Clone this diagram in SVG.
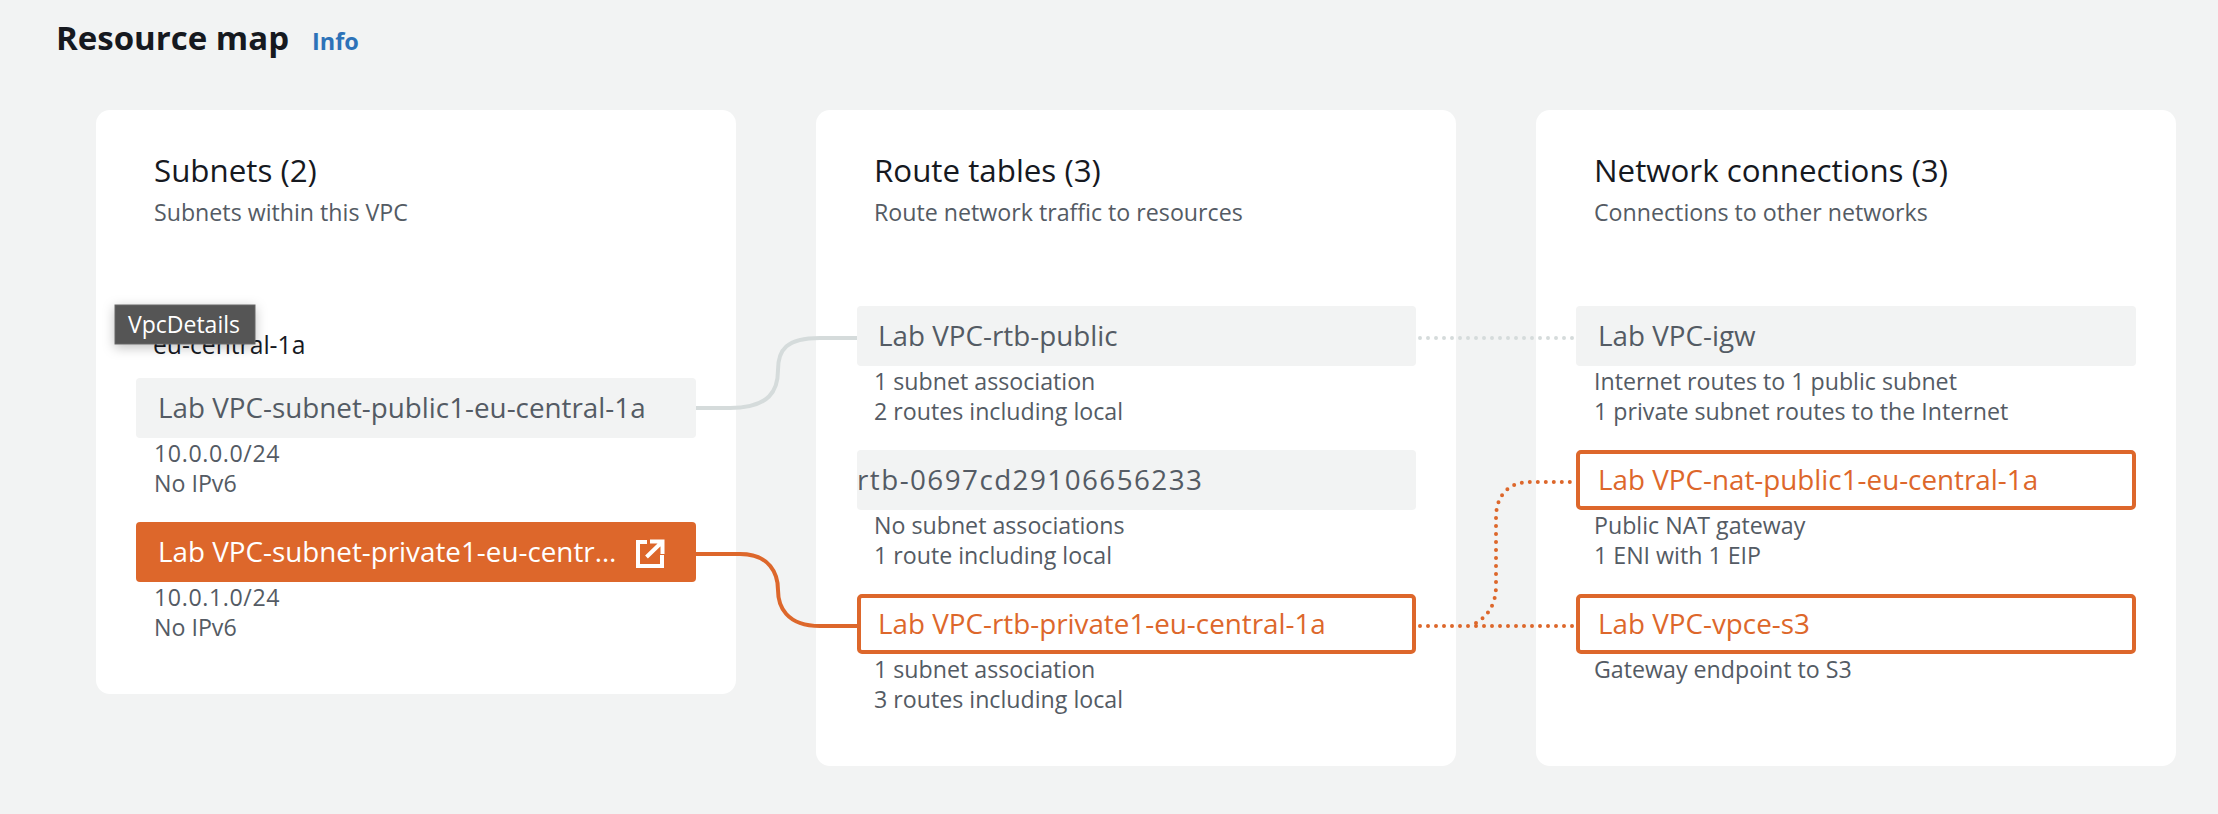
<svg xmlns="http://www.w3.org/2000/svg" width="2218" height="814" viewBox="0 0 2218 814">
<defs>
<style>
text{font-family:"Open Sans","Noto Sans","Liberation Sans",sans-serif}
.card{fill:#fff}
.node{fill:#f2f3f3}
.sel{fill:#fff;stroke:#dd672b;stroke-width:4}
.name{font-size:27.8px;fill:#545b64}
.nameo{font-size:27.8px;fill:#dd672b}
.h{font-size:31.3px;fill:#16191f;font-weight:500}
.sub{font-size:23.2px;fill:#545b64}
.c{fill:none;stroke-linecap:round}
.dot{stroke-width:4;stroke-dasharray:0 8}
</style>
<filter id="sh" x="-20%" y="-30%" width="140%" height="170%"><feDropShadow dx="0" dy="3" stdDeviation="6" flood-color="#000" flood-opacity=".25"/></filter>
</defs>
<rect width="2218" height="814" fill="#f2f3f3"/>
<g id="title"><text x="56" y="50" font-size="33" font-weight="700" fill="#16191f">Resource map</text><text x="312" y="50" font-size="23.5" font-weight="700" fill="#2d72b8">Info</text></g>
<g id="card-subnets"><rect class="card" x="96" y="110" width="640" height="584" rx="14"/><text class="h" x="154" y="182">Subnets (2)</text><text class="sub" x="154" y="221">Subnets within this VPC</text><text x="153" y="354" font-size="24.7" fill="#16191f">eu-central-1a</text></g>
<g id="card-routes"><rect class="card" x="816" y="110" width="640" height="656" rx="14"/><text class="h" x="874" y="182">Route tables (3)</text><text class="sub" x="874" y="221">Route network traffic to resources</text></g>
<g id="card-network"><rect class="card" x="1536" y="110" width="640" height="656" rx="14"/><text class="h" x="1594" y="182">Network connections (3)</text><text class="sub" x="1594" y="221">Connections to other networks</text></g>
<g id="connectors">
<path class="c" stroke="#d5dbdb" stroke-width="4" d="M696 408H730C770 408 778 390 778 370C778 350 786 338 820 338H858"/>
<path class="c dot" stroke="#d5dbdb" d="M1420 338H1574"/>
<path class="c" stroke="#dd672b" stroke-width="4" d="M696 554H740C770 554 778 574 778 590C778 606 786 626 820 626H858"/>
<path class="c dot" stroke="#dd672b" d="M1420 626H1574"/>
<path class="c dot" stroke="#dd672b" d="M1476 623C1488 616 1496 604 1496 586V518C1496 496 1508 482 1530 482H1574"/>
</g>
<g id="node-subnet-public"><rect class="node" x="136" y="378" width="560" height="60" rx="4"/><text class="name" x="158" y="418">Lab VPC-subnet-public1-eu-central-1a</text><text class="sub" x="154" y="462" letter-spacing=".6">10.0.0.0/24</text><text class="sub" x="154" y="492">No IPv6</text></g>
<g id="node-subnet-private"><rect x="136" y="522" width="560" height="60" rx="4" fill="#dd672b"/><text x="158" y="562" font-size="27.8" fill="#fff">Lab VPC-subnet-private1-eu-centr…</text><path d="M647 542H638V566H662V555M646.5 557L661 543M650 541.5H662.5V554" fill="none" stroke="#fff" stroke-width="4"/><text class="sub" x="154" y="606" letter-spacing=".6">10.0.1.0/24</text><text class="sub" x="154" y="636">No IPv6</text></g>
<g id="node-rtb-public"><rect class="node" x="857" y="306" width="559" height="60" rx="4"/><text class="name" x="878" y="346">Lab VPC-rtb-public</text><text class="sub" x="874" y="390">1 subnet association</text><text class="sub" x="874" y="420">2 routes including local</text></g>
<g id="node-rtb-0697"><rect class="node" x="857" y="450" width="559" height="60" rx="4"/><text class="name" x="857" y="490" letter-spacing="1.45">rtb-0697cd29106656233</text><text class="sub" x="874" y="534">No subnet associations</text><text class="sub" x="874" y="564">1 route including local</text></g>
<g id="node-rtb-private"><rect class="sel" x="859" y="596" width="555" height="56" rx="3"/><text class="nameo" x="878" y="634">Lab VPC-rtb-private1-eu-central-1a</text><text class="sub" x="874" y="678">1 subnet association</text><text class="sub" x="874" y="708">3 routes including local</text></g>
<g id="node-igw"><rect class="node" x="1576" y="306" width="560" height="60" rx="4"/><text class="name" x="1598" y="346">Lab VPC-igw</text><text class="sub" x="1594" y="390">Internet routes to 1 public subnet</text><text class="sub" x="1594" y="420">1 private subnet routes to the Internet</text></g>
<g id="node-nat"><rect class="sel" x="1578" y="452" width="556" height="56" rx="3"/><text class="nameo" x="1598" y="490">Lab VPC-nat-public1-eu-central-1a</text><text class="sub" x="1594" y="534">Public NAT gateway</text><text class="sub" x="1594" y="564">1 ENI with 1 EIP</text></g>
<g id="node-vpce"><rect class="sel" x="1578" y="596" width="556" height="56" rx="3"/><text class="nameo" x="1598" y="634">Lab VPC-vpce-s3</text><text class="sub" x="1594" y="678">Gateway endpoint to S3</text></g>
<g id="tooltip"><rect x="115" y="305" width="140" height="39" fill="#545454" stroke="#666" filter="url(#sh)"/><text x="128" y="333" font-size="23" fill="#fff">VpcDetails</text></g>
</svg>
